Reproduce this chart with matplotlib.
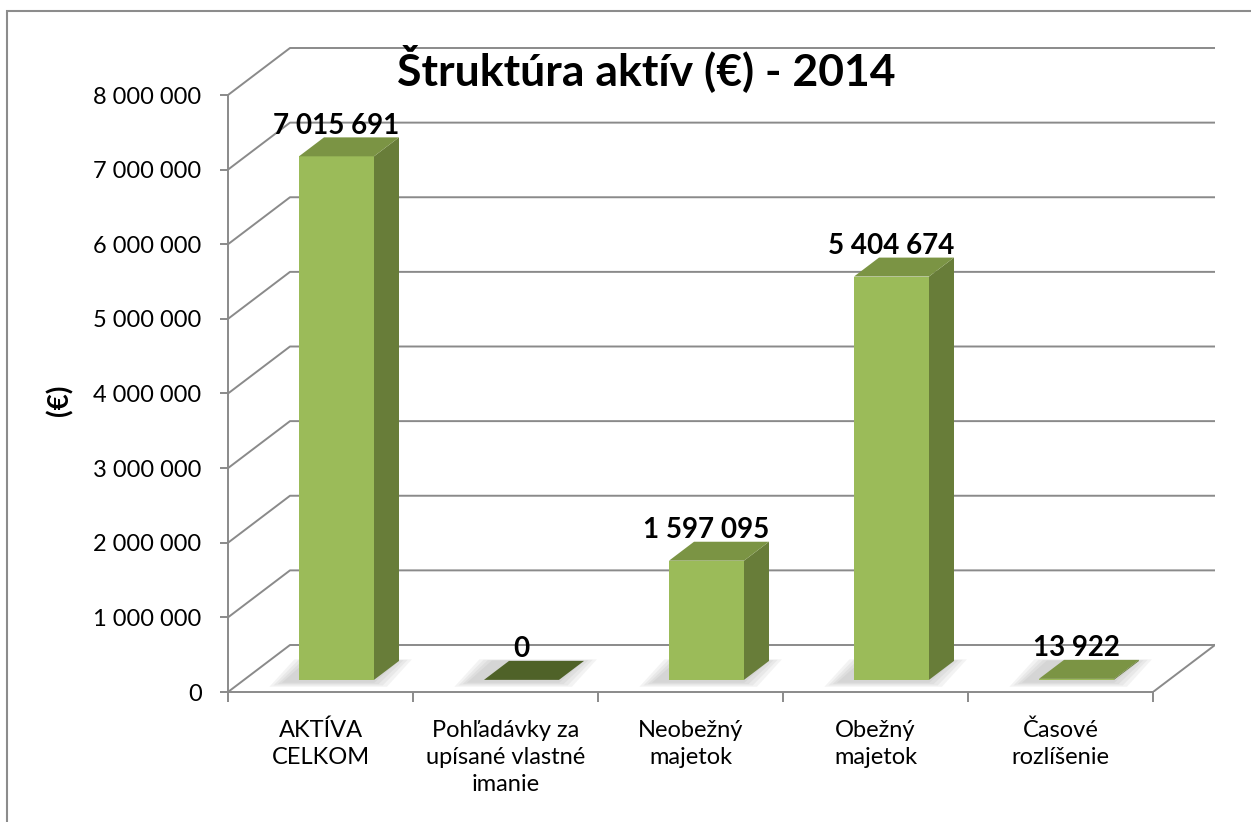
import matplotlib
matplotlib.use('Agg')
import matplotlib.pyplot as plt
from matplotlib.patches import Polygon, Rectangle

categories = ["AKTÍVA\nCELKOM", "Pohľadávky za\nupísané vlastné\nimanie",
              "Neobežný\nmajetok", "Obežný\nmajetok", "Časové\nrozlíšenie"]
values = [7015691, 0, 1597095, 5404674, 13922]
yticks = [0, 1000000, 2000000, 3000000, 4000000, 5000000, 6000000, 7000000, 8000000]
ytick_labels = ["0", "1 000 000", "2 000 000", "3 000 000", "4 000 000",
                "5 000 000", "6 000 000", "7 000 000", "8 000 000"]
title = "Štruktúra aktív (€) - 2014"
ylabel = "(€)"

plt.rcParams['font.family'] = ['Lato', 'DejaVu Sans']

W, H = 1251, 822
fig = plt.figure(figsize=(W / 100, H / 100), dpi=100)

# pixel geometry of the pseudo-3d plot area
px_cat = 185.0
px_val = 597.0 / 8e6
DX = 62 / px_cat          # depth shift in category units
DY = 47 / px_val          # depth shift in value units
f_front, f_back = 16 / 62, 41 / 62
bw = 75 / px_cat

grid_c = '#8a8a8a'
c_front, c_side, c_top, c_flat = '#9bbb59', '#687d39', '#7b9444', '#4f6228'

ax = fig.add_axes([228 / W, (H - 692) / H, 987 / W, 646 / H])
ax.set_xlim(-0.5, -0.5 + 987 / px_cat)
ax.set_ylim(0, 646 / px_val)
ax.patch.set_alpha(0)

n = len(categories)
x_left, x_right = -0.5, n - 0.5

# walls / gridlines
for v in yticks:
    ax.plot([x_left, x_left + DX, x_right + DX], [v, v + DY, v + DY],
            color=grid_c, lw=1.4, zorder=1, solid_capstyle='butt')
ax.plot([x_right, x_right + DX], [0, DY], color=grid_c, lw=1.4, zorder=1)

# bars
for i, v in enumerate(values):
    x0 = i - bw / 2 + f_front * DX
    y0 = f_front * DY
    sx = (f_back - f_front) * DX
    sy = (f_back - f_front) * DY
    # soft shadow
    for e in [0.10, 0.075, 0.05, 0.025]:
        ex = e * 0.9
        ey = e * 0.9 * 8e5
        sh = Polygon([(x0 - ex - 0.07, y0 - ey - 0.2e5), (x0 + bw + ex - 0.02, y0 - ey - 0.2e5),
                      (x0 + bw + sx + ex - 0.02, y0 + sy + ey * 0.3),
                      (x0 + sx - ex - 0.07, y0 + sy + ey * 0.3)],
                     closed=True, fc='#606060', ec='none', alpha=0.07, zorder=2)
        ax.add_patch(sh)
    ax.bar(i + f_front * DX, v, width=bw, bottom=y0, color=c_front, zorder=3)
    ax.add_patch(Polygon([(x0 + bw, y0), (x0 + bw + sx, y0 + sy),
                          (x0 + bw + sx, y0 + sy + v), (x0 + bw, y0 + v)],
                         closed=True, fc=c_side, ec='none', zorder=3))
    ax.add_patch(Polygon([(x0, y0 + v), (x0 + bw, y0 + v),
                          (x0 + bw + sx, y0 + sy + v), (x0 + sx, y0 + sy + v)],
                         closed=True, fc=c_top if v > 0 else c_flat, ec='none', zorder=3))
    ax.annotate(f"{v:,}".replace(",", " "), xy=(i + f_front * DX, v + y0 + sy),
                xytext=(0, 2.5), textcoords='offset points', ha='center', va='baseline',
                fontsize=20, fontweight='bold', zorder=5, annotation_clip=False)

# axes
for s in ['top', 'right']:
    ax.spines[s].set_visible(False)
ax.spines['left'].set_bounds(0, yticks[-1])
ax.spines['bottom'].set_bounds(x_left, x_right)
for s in ['left', 'bottom']:
    ax.spines[s].set_color(grid_c)
    ax.spines[s].set_linewidth(1.4)
    ax.spines[s].set_zorder(4)

ax.set_yticks(yticks)
ax.set_yticklabels(ytick_labels)
ax.tick_params(axis='y', length=6, width=1.4, color=grid_c, pad=13, labelsize=17)

ax.set_xticks([x_left + k for k in range(n + 1)])
ax.set_xticklabels([])
ax.set_xticks(range(n), minor=True)
ax.set_xticklabels(categories, minor=True)
ax.tick_params(axis='x', which='major', length=7, width=1.4, color=grid_c)
ax.tick_params(axis='x', which='minor', length=0, pad=20, labelsize=17)
for lbl in ax.get_xticklabels(minor=True):
    lbl.set_linespacing(1.35)

fig.text(60 / W, 1 - 400 / H, ylabel, rotation=90, ha='center', va='center',
         fontsize=20, fontweight='bold')
fig.text(646 / W, 1 - 85 / H, title, ha='center', va='baseline',
         fontsize=32, fontweight='bold')

fig.patches.append(Rectangle((7 / W, -0.05), 1.1, 1 - 11 / H + 0.05, transform=fig.transFigure,
                             fill=False, ec='#8c8c8c', lw=1.5))

fig.savefig('out.png', dpi=100)
